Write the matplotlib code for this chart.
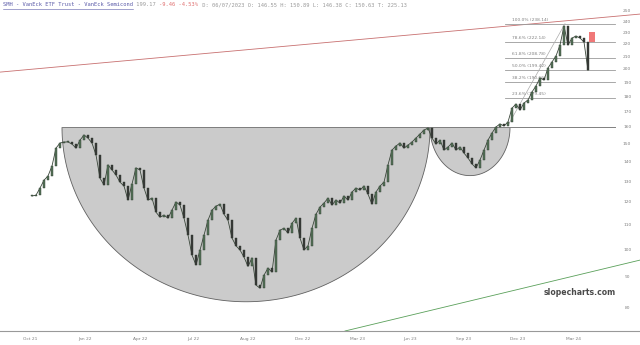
import numpy as np
import matplotlib
matplotlib.use("Agg")
import matplotlib.pyplot as plt
import matplotlib.transforms as mtransforms

# weekly-ish closes (SMH)
closes = [123.0, 123.4, 126.8, 130.7, 132.8, 138.0, 147.8, 150.7, 151.3, 151.3,
          150.1, 147.8, 152.4, 155.4, 153.6, 150.7, 144.0, 131.7, 128.3, 138.6,
          135.9, 133.3, 129.7, 127.8, 121.1, 128.7, 137.0, 135.9, 126.8, 121.1,
          122.0, 115.6, 113.4, 114.3, 113.0, 116.5, 120.2, 118.8, 113.0, 105.9,
          98.1, 94.4, 100.0, 105.9, 112.1, 116.5, 118.3, 119.2, 114.7, 112.1,
          104.7, 101.6, 100.0, 97.3, 93.9, 97.0, 87.4, 86.4, 90.8, 93.3,
          91.9, 103.9, 107.9, 108.7, 106.7, 110.8, 113.0, 104.7, 100.0, 101.6,
          108.7, 114.7, 117.9, 119.7, 122.0, 118.8, 121.1, 119.7, 123.0, 121.1,
          124.9, 126.8, 125.8, 127.8, 123.9, 119.2, 124.9, 127.8, 129.7, 138.6,
          146.7, 149.0, 150.7, 147.8, 149.5, 151.3, 153.6, 156.0, 158.4, 159.6,
          153.6, 150.1, 152.4, 146.7, 148.4, 150.7, 146.7, 148.4, 145.0, 142.3,
          139.1, 137.0, 141.2, 146.7, 152.4, 156.6, 160.3, 162.1, 160.9, 163.4,
          172.3, 175.0, 171.0, 175.7, 177.7, 183.3, 187.6, 193.4, 191.9, 201.0,
          205.6, 210.4, 219.4, 236.0, 219.4, 225.4, 227.1, 225.4, 222.0, 199.2]
opens = [closes[0]] + closes[:-1]

tick_pos = [-0.5, 13.25, 27, 40.25, 54, 67.75, 81.25, 94.5, 108, 121.5, 135.25]
tick_labels = ["Oct 21", "Jan 22", "Apr 22", "Jul 22", "Aug 22", "Dec 22",
               "Mar 23", "Jun 23", "Sep 23", "Dec 23", "Mar 24"]
price_ticks = [250, 240, 230, 220, 210, 200, 190, 180, 170, 160,
               150, 140, 130, 120, 110, 100, 90, 80]

fib_names = ["100.0%", "78.6%", "61.8%", "50.0%", "38.2%", "23.6%"]
fib_prices = [238.14, 222.14, 208.78, 199.42, 190.66, 179.45]
fib_low = (119, 161.3)
fib_high = (133.25, 238.14)

# cup shapes: left index, right index, rim price, bottom price
big_cup = (7.5, 99.5, 160, 82)
small_cup = (99.5, 119.5, 160, 133)
rim_end = 145.75

fig = plt.figure(figsize=(6.4, 3.45), dpi=100)
ax = fig.add_axes([0, 14 / 345, 1, 331 / 345])
ax.set_yscale("log")
ax.set_xlim(-8, 152)
ax.set_ylim(73.3, 260.8)

def draw_cup(left, right, top, bottom):
    t = np.linspace(np.pi, 2 * np.pi, 200)
    cx = (left + right) / 2
    a = (right - left) / 2
    b = np.log(top) - np.log(bottom)
    xs = cx + a * np.cos(t)
    ys = np.exp(np.log(top) + b * np.sin(t))
    ax.fill(xs, ys, facecolor="#cbcbcb", edgecolor="#606060", lw=0.6, zorder=1)

draw_cup(*big_cup)
draw_cup(*small_cup)
ax.plot([big_cup[0], rim_end], [big_cup[2], big_cup[2]], color="#808080", lw=0.7, zorder=1.5)

# trend lines
ax.plot([-8, 152], [197.8, 247.1], color="#c87070", lw=0.6, zorder=1.5)
ax.plot([78.25, 152], [73.3, 96.2], color="#5aa05a", lw=0.6, zorder=1.5)

# fibonacci retracement
for name, p in zip(fib_names, fib_prices):
    ax.plot([118.25, rim_end], [p, p], color="#9a9a9a", lw=0.6, zorder=1.5)
    ax.text(120, p * 1.006, f"{name} ({p:.2f})", fontsize=3.2, color="#808080",
            ha="left", va="bottom", zorder=2)
ax.plot([fib_low[0], fib_high[0]], [fib_low[1], fib_high[1]], color="#aaaaaa", lw=0.5, zorder=1.5)

# candles
x = np.arange(len(closes))
ax.plot(x, closes, color="#3a463a", lw=0.6, zorder=2.9)
for i, o, c in zip(x, opens, closes):
    col = "#56745a" if c >= o else "#383838"
    lo, hi = min(o, c), max(o, c)
    ax.bar(i, hi - lo if hi > lo else 0.3, bottom=lo, width=0.5, color=col,
           edgecolor="#2d3a2d", lw=0.3, zorder=3)

ax.add_patch(plt.Rectangle((139.25, 222.2), 1.5, 8.4, facecolor="#f07878",
                           edgecolor="none", zorder=3))

# axes styling
for s in ["top", "left", "right"]:
    ax.spines[s].set_visible(False)
ax.spines["bottom"].set_color("#999999")
ax.spines["bottom"].set_linewidth(0.8)
ax.set_yticks([])
ax.minorticks_off()
ax.set_yticks([], minor=True)
ax.set_xticks(tick_pos)
ax.set_xticklabels(tick_labels)
ax.tick_params(axis="x", length=0, pad=4, labelsize=3.2, labelcolor="#808080")

trans = mtransforms.blended_transform_factory(ax.transAxes, ax.transData)
for v in price_ticks:
    ax.text(0.98, v, str(v), transform=trans, fontsize=3.2, color="#808080",
            ha="center", va="center")

ax.text(0.906, 0.115, "slopecharts.com", transform=ax.transAxes, fontsize=5.6,
        fontweight="bold", color="#4a4a4a", ha="center", va="center")

# header line
cw = 3.26
parts = [("SMH - VanEck ETF Trust - VanEck Semicond", "#5a5aa8"),
         (" 199.17 ", "#9a9a9a"),
         ("-9.46 -4.53%", "#e07070"),
         (" D: 06/07/2023 O: 146.55 H: 150.89 L: 146.38 C: 150.63 T: 225.13", "#9a9a9a")]
pos = 3
for txt, col in parts:
    fig.text(pos / 640, 1 - 5 / 345, txt, fontsize=3.9, family="DejaVu Sans Mono",
             color=col, ha="left", va="center")
    pos += len(txt) * cw
fig.add_artist(plt.Line2D([3 / 640, 133 / 640], [1 - 8.5 / 345, 1 - 8.5 / 345],
                          color="#5a5aa8", lw=0.4))

fig.savefig("out.png", dpi=100)
